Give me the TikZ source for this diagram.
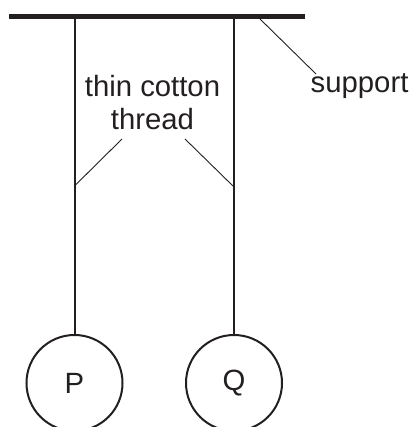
\documentclass[tikz,border=0pt]{standalone}
\usepackage{fontspec}
\setmainfont{Liberation Sans}
\definecolor{ink}{HTML}{231F20}
\begin{document}
\begin{tikzpicture}[x=1pt,y=-1pt,
  every node/.style={text=ink,font=\fontsize{29.3}{33}\selectfont,inner sep=0pt},
  bob/.style={circle,draw=ink,line width=2pt,minimum size=96pt},
  thread/.style={draw=ink,line width=2pt},
  leader/.style={draw=ink,line width=0.9pt},
  bar/.style={draw=ink,line width=5pt}]
\useasboundingbox (0,0) rectangle (411,427);
\clip (0,0) rectangle (411,427);
\coordinate (barL) at (9,16.5);
\coordinate (barR) at (305,16.5);
\coordinate (tP) at (74.5,18);
\coordinate (tQ) at (234,18);
\node[bob] (P) at (74.5,383) {P};
\node[bob] (Q) at (234,383) {Q};
\draw[bar] (barL) -- (barR);
\draw[thread] (tP) -- (P.north);
\draw[thread] (tQ) -- (Q.north);
\node[align=center] (lab) at (152.5,102.8) {thin cotton\\thread};
\node[anchor=base west] (sup) at (310.5,93) {support};
\coordinate (lA) at (122,139);
\coordinate (lB) at (75.5,185);
\coordinate (rA) at (185,139);
\coordinate (rB) at (233,186);
\coordinate (sA) at (260,19);
\coordinate (sB) at (316,74);
\draw[leader] (lA) -- (lB);
\draw[leader] (rA) -- (rB);
\draw[leader] (sA) -- (sB);
\end{tikzpicture}
\end{document}
